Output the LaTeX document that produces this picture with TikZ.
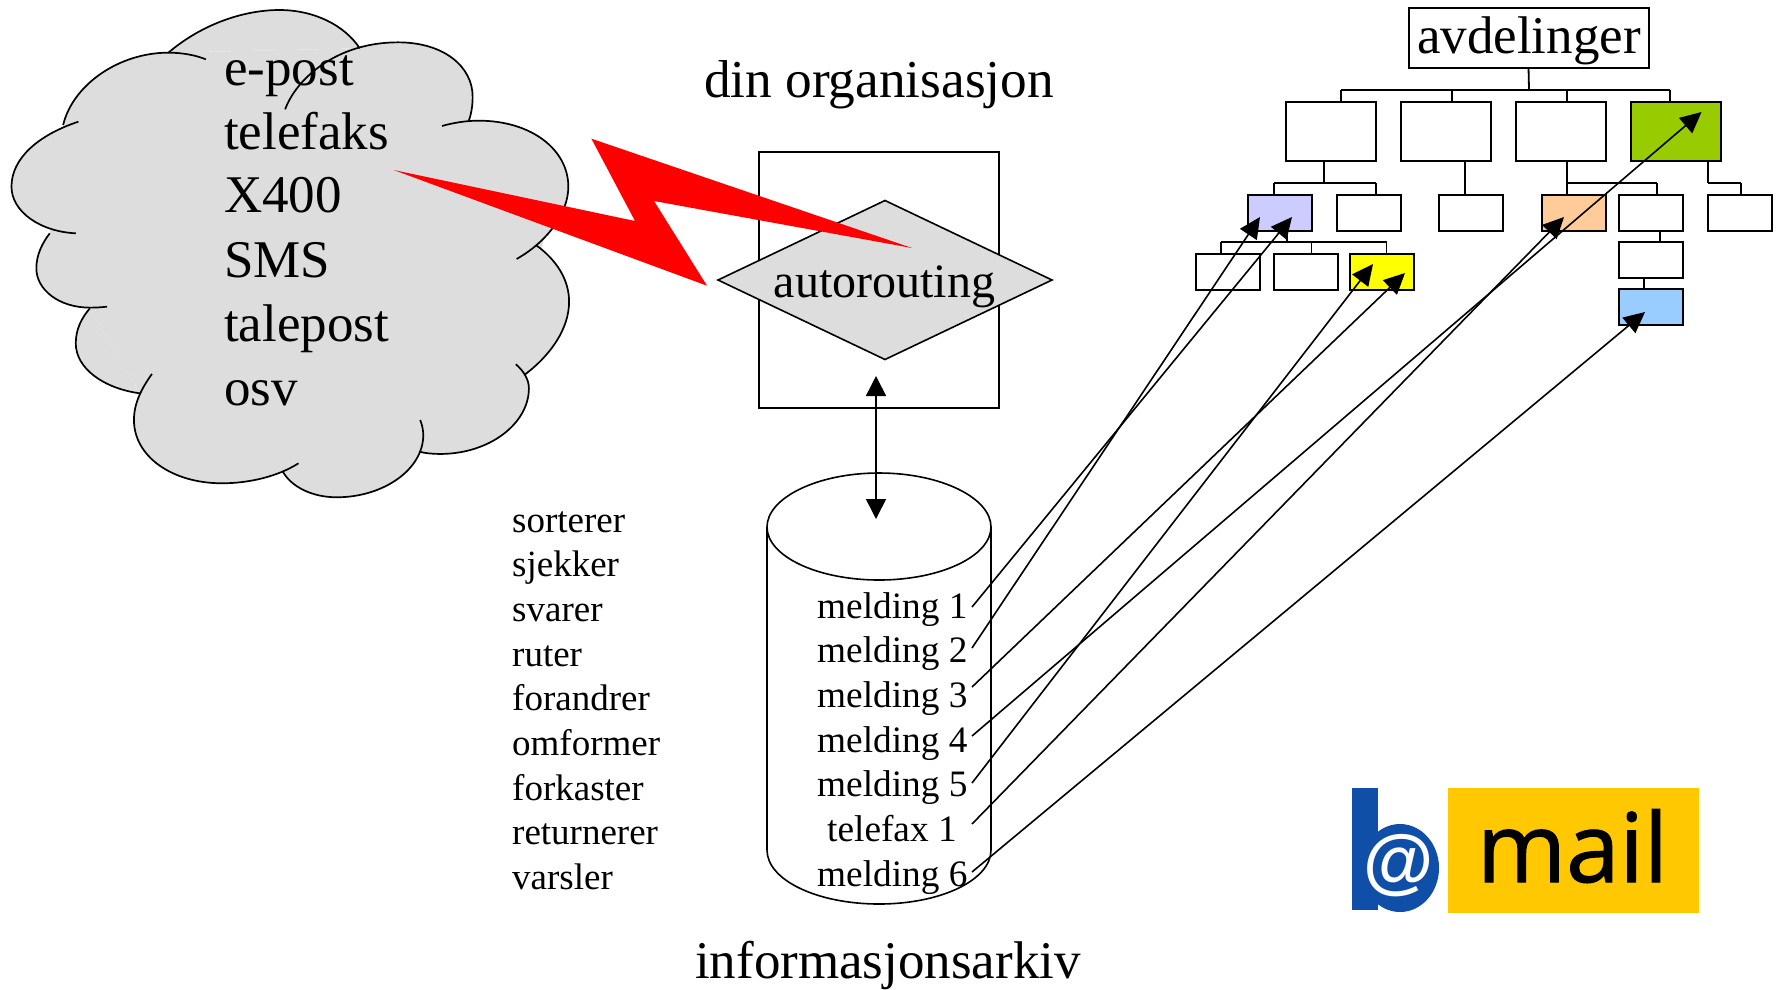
\documentclass[tikz,border=0pt]{standalone}
\usepackage{fontspec}
\setmainfont{Liberation Serif}
\newfontfamily\logofont[FakeBold=1.2]{Open Sans}
\newfontfamily\atfont{Liberation Sans}
\usetikzlibrary{arrows.meta,shapes.geometric}
\definecolor{cloudgrey}{HTML}{DDDDDD}
\definecolor{boltred}{HTML}{FF0000}
\definecolor{dgreen}{HTML}{99CC00}
\definecolor{dlilac}{HTML}{CCCCFF}
\definecolor{dpeach}{HTML}{FFCC99}
\definecolor{dyellow}{HTML}{FFFF00}
\definecolor{dblue}{HTML}{99CCFF}
\definecolor{logoblue}{HTML}{0F4FA8}
\definecolor{logoyellow}{HTML}{FFC800}
\newcommand\sz[1]{\fontsize{#1}{#1}\selectfont}
\newcommand\lobefill[1]{\fill[cloudgrey] #1 -- cycle;}
\newcommand\lobedraw[1]{\draw[line width=1.7pt] #1;}
\newcommand\cloudlobes[1]{%
#1{(440,158) .. controls (530,70) and (640,30) .. (730,30) .. controls (820,30) and (900,75) .. (940,145)}
#1{(745,328) .. controls (775,235) and (880,127) .. (1040,127) .. controls (1160,127) and (1235,200) .. (1235,290) .. controls (1235,315) and (1232,340) .. (1225,362)}
#1{(1155,378) .. controls (1185,368) and (1220,362) .. (1250,362) .. controls (1390,362) and (1485,450) .. (1485,560) .. controls (1485,640) and (1430,725) .. (1350,777)}
#1{(1400,735) .. controls (1455,780) and (1487,840) .. (1487,905) .. controls (1487,985) and (1440,1065) .. (1370,1125)}
#1{(1348,1093) .. controls (1370,1115) and (1382,1140) .. (1382,1165) .. controls (1382,1270) and (1280,1362) .. (1150,1362) .. controls (1130,1362) and (1112,1360) .. (1095,1355)}
#1{(1098,1260) .. controls (1103,1275) and (1106,1290) .. (1106,1305) .. controls (1106,1410) and (1000,1492) .. (880,1492) .. controls (815,1492) and (760,1460) .. (738,1413)}
#1{(780,1390) .. controls (725,1430) and (650,1450) .. (580,1450) .. controls (450,1450) and (350,1370) .. (350,1260) .. controls (350,1210) and (370,1165) .. (397,1122)}
#1{(365,1180) .. controls (270,1165) and (198,1105) .. (198,1030) .. controls (198,990) and (212,955) .. (235,925)}
#1{(280,920) .. controls (265,922) and (250,923) .. (235,923) .. controls (155,923) and (95,870) .. (95,805) .. controls (95,765) and (110,730) .. (130,700)}
#1{(198,700) .. controls (105,695) and (30,635) .. (30,560) .. controls (30,475) and (100,405) .. (205,365)}
#1{(165,375) .. controls (190,255) and (310,158) .. (440,158) .. controls (475,158) and (510,165) .. (538,178)}
}
\tikzset{
  orgbox/.style={draw,line width=2pt,fill=white,inner sep=0pt,outer sep=0pt},
  bigbox/.style={orgbox,minimum width=90pt,minimum height=59pt},
  smallbox/.style={orgbox,minimum width=64pt,minimum height=36pt},
  bigtext/.style={font=\sz{53},inner sep=0pt,anchor=base west},
  msgtext/.style={font=\sz{37.3},inner sep=0pt,anchor=base west},
  verbtext/.style={font=\sz{37},inner sep=0pt,anchor=base west},
  orgline/.style={line width=1.8pt},
  msgarrow/.style={line width=1.6pt,-{Triangle[length=21pt,width=20pt]}},
}
\begin{document}
\begin{tikzpicture}[x=1pt,y=-1pt]
\useasboundingbox (0,0) rectangle (1776,989);
% organisation box and diamond
\node[draw,line width=1.8pt,inner sep=0pt,outer sep=0pt,minimum width=240pt,minimum height=256pt] (org) at (879,280) {};
\node[draw,diamond,fill=cloudgrey,line width=1.6pt,inner sep=0pt,outer sep=0pt,aspect=2.09,minimum width=334pt,minimum height=159pt] (route) at (885,280) {};
\node[font=\sz{48},inner sep=0pt,anchor=base] (routetext) at (884.5,297) {autorouting};
\node[font=\sz{53.3},inner sep=0pt,anchor=base] (orgtitle) at (879,97.5) {din organisasjon};
% cloud
\begin{scope}[x=0.3827pt,y=-0.3333pt]
\cloudlobes\lobefill
\fill[cloudgrey] (440,158) -- (940,145) -- (1225,362) -- (1420,715) -- (1370,1125) -- (1095,1355) -- (738,1413) -- (365,1180) -- (235,925) -- (130,700) -- (165,375) -- cycle;
\cloudlobes\lobedraw
\end{scope}
\node[bigtext] (c1) at (224,85) {e-post};
\node[bigtext] (c2) at (224,149) {telefaks};
\node[bigtext] (c3) at (224,212) {X400};
\node[bigtext] (c4) at (224,277) {SMS};
\node[bigtext] (c5) at (224,341) {talepost};
\node[bigtext] (c6) at (224,405) {osv};
% lightning
\fill[boltred] (393.6,170) -- (635,221) -- (591.4,138.7) -- (912,248) -- (654,201) -- (707,285.7) -- cycle;
% verbs
\node[verbtext] (v1) at (512,532) {sorterer};
\node[verbtext] (v2) at (512,576.7) {sjekker};
\node[verbtext] (v3) at (512,621.4) {svarer};
\node[verbtext] (v4) at (512,666.4) {ruter};
\node[verbtext] (v5) at (512,710.8) {forandrer};
\node[verbtext] (v6) at (512,755.5) {omformer};
\node[verbtext] (v7) at (512,800.4) {forkaster};
\node[verbtext] (v8) at (512,844.9) {returnerer};
\node[verbtext] (v9) at (512,889.8) {varsler};
% cylinder
\draw[line width=1.6pt] (767,527) .. controls (767,498) and (817,473) .. (879,473) .. controls (941,473) and (991,498) .. (991,527) .. controls (991,556) and (941,580) .. (879,580) .. controls (817,580) and (767,556) .. (767,527) -- (767,850) .. controls (767,880) and (817,904) .. (879,904) .. controls (941,904) and (991,880) .. (991,850) -- (991,527);
\node[msgtext] (m1) at (817,618) {melding 1};
\node[msgtext] (m2) at (817,662) {melding 2};
\node[msgtext] (m3) at (817,707) {melding 3};
\node[msgtext] (m4) at (817,752) {melding 4};
\node[msgtext] (m5) at (817,796) {melding 5};
\node[msgtext] (m7) at (827,841) {telefax 1};
\node[msgtext] (m6) at (817,886) {melding 6};
\node[font=\sz{53},inner sep=0pt,anchor=base] (archive) at (888,978) {informasjonsarkiv};
% org chart
\node[orgbox,minimum width=240pt,minimum height=60pt] (root) at (1528.5,37.5) {};
\node[font=\sz{53},inner sep=0pt,anchor=base] (roottext) at (1529,53) {avdelinger};
\node[bigbox] (a1) at (1331,131.5) {};
\node[bigbox] (a2) at (1446,131.5) {};
\node[bigbox] (a3) at (1561,131.5) {};
\node[bigbox,fill=dgreen] (a4) at (1676,131.5) {};
\node[smallbox,fill=dlilac] (b1) at (1280,213) {};
\node[smallbox] (b2) at (1369,213) {};
\node[smallbox] (b3) at (1471,213) {};
\node[smallbox,fill=dpeach] (b4) at (1574,213) {};
\node[smallbox] (b5) at (1650.5,213) {};
\node[smallbox] (b6) at (1740,213) {};
\node[smallbox] (c7) at (1228,271.5) {};
\node[smallbox] (c8) at (1305.5,271.5) {};
\node[smallbox,fill=dyellow] (c9) at (1382,271.5) {};
\node[smallbox] (d1) at (1650.5,260) {};
\node[smallbox,fill=dblue] (d2) at (1650.5,306.5) {};
% org chart lines
\coordinate (bus0) at (1529,90);
\coordinate (bus0l) at (1341,90);
\coordinate (bus0b) at (1452,90);
\coordinate (bus0c) at (1567,90);
\coordinate (bus0r) at (1670,90);
\draw[orgline] (root.south) -- (bus0);
\draw[orgline] (bus0l) -- (bus0r);
\draw[orgline] (bus0l) -- (bus0l |- a1.north);
\draw[orgline] (bus0b) -- (bus0b |- a2.north);
\draw[orgline] (bus0c) -- (bus0c |- a3.north);
\draw[orgline] (bus0r) -- (bus0r |- a4.north);
\coordinate (bus1m) at (1324,183);
\coordinate (bus1l) at (1274,183);
\coordinate (bus1r) at (1376,183);
\draw[orgline] (bus1m |- a1.south) -- (bus1m);
\draw[orgline] (bus1l) -- (bus1r);
\draw[orgline] (bus1l) -- (bus1l |- b1.north);
\draw[orgline] (bus1r) -- (bus1r |- b2.north);
\coordinate (bus2) at (1465,183);
\draw[orgline] (bus2 |- a2.south) -- (bus2 |- b3.north);
\coordinate (bus3l) at (1567,183);
\coordinate (bus3r) at (1657,183);
\draw[orgline] (bus3l |- a3.south) -- (bus3l |- b4.north);
\draw[orgline] (bus3l) -- (bus3r);
\draw[orgline] (bus3r) -- (bus3r |- b5.north);
\coordinate (bus4l) at (1708,183);
\coordinate (bus4r) at (1741,183);
\draw[orgline] (bus4l |- a4.south) -- (bus4l);
\draw[orgline] (bus4l) -- (bus4r);
\draw[orgline] (bus4r) -- (bus4r |- b6.north);
\coordinate (bus5m) at (1287,242);
\coordinate (bus5l) at (1221,242);
\coordinate (bus5c) at (1311.5,242);
\coordinate (bus5r) at (1386.5,242);
\draw[orgline] (bus5m |- b1.south) -- (bus5m);
\draw[orgline] (bus5l) -- (bus5r);
\draw[orgline] (bus5l) -- (bus5l |- c7.north);
\draw[orgline] (bus5c) -- (bus5c |- c8.north);
\draw[orgline] (bus5r) -- (bus5r |- c9.north);
\coordinate (col1) at (1660,235);
\coordinate (col2) at (1644,283);
\draw[orgline] (col1 |- b5.south) -- (col1 |- d1.north);
\draw[orgline] (col2 |- d1.south) -- (col2 |- d2.north);
% message arrows
\coordinate (s1) at (972,607);
\coordinate (s2) at (972,648);
\coordinate (s3) at (972,687);
\coordinate (s4) at (972,736);
\coordinate (s5) at (972,783);
\coordinate (s7) at (972,824);
\coordinate (s6) at (972,872);
\coordinate (t1) at (1292,217);
\coordinate (t2) at (1260,217);
\coordinate (t3) at (1405,273);
\coordinate (t4) at (1701.5,112);
\coordinate (t5) at (1373,264);
\coordinate (t7) at (1564,217);
\coordinate (t6) at (1645,312);
\draw[msgarrow] (s1) -- (t1);
\draw[msgarrow] (s2) -- (t2);
\draw[msgarrow] (s3) -- (t3);
\draw[msgarrow] (s4) -- (t4);
\draw[msgarrow] (s5) -- (t5);
\draw[msgarrow] (s7) -- (t7);
\draw[msgarrow] (s6) -- (t6);
% double arrow
\coordinate (dbl1) at (876,376);
\coordinate (dbl2) at (876,519);
\draw[line width=1.6pt,{Triangle[length=20pt,width=20pt]}-{Triangle[length=20pt,width=20pt]}] (dbl1) -- (dbl2);
% logo
\fill[logoblue] (1352,788) rectangle (1378,910);
\fill[logoblue] (1400,868) ellipse [x radius=39, y radius=44];
\node[font=\atfont\bfseries\sz{72},text=white,inner sep=0pt] (at) at (1399,866) {@};
\fill[logoyellow] (1448,788) rectangle (1699,913);
\node[font=\logofont\sz{96},inner sep=0pt,anchor=base] (mail) at (1572.5,882) {mail};
\end{tikzpicture}
\end{document}
